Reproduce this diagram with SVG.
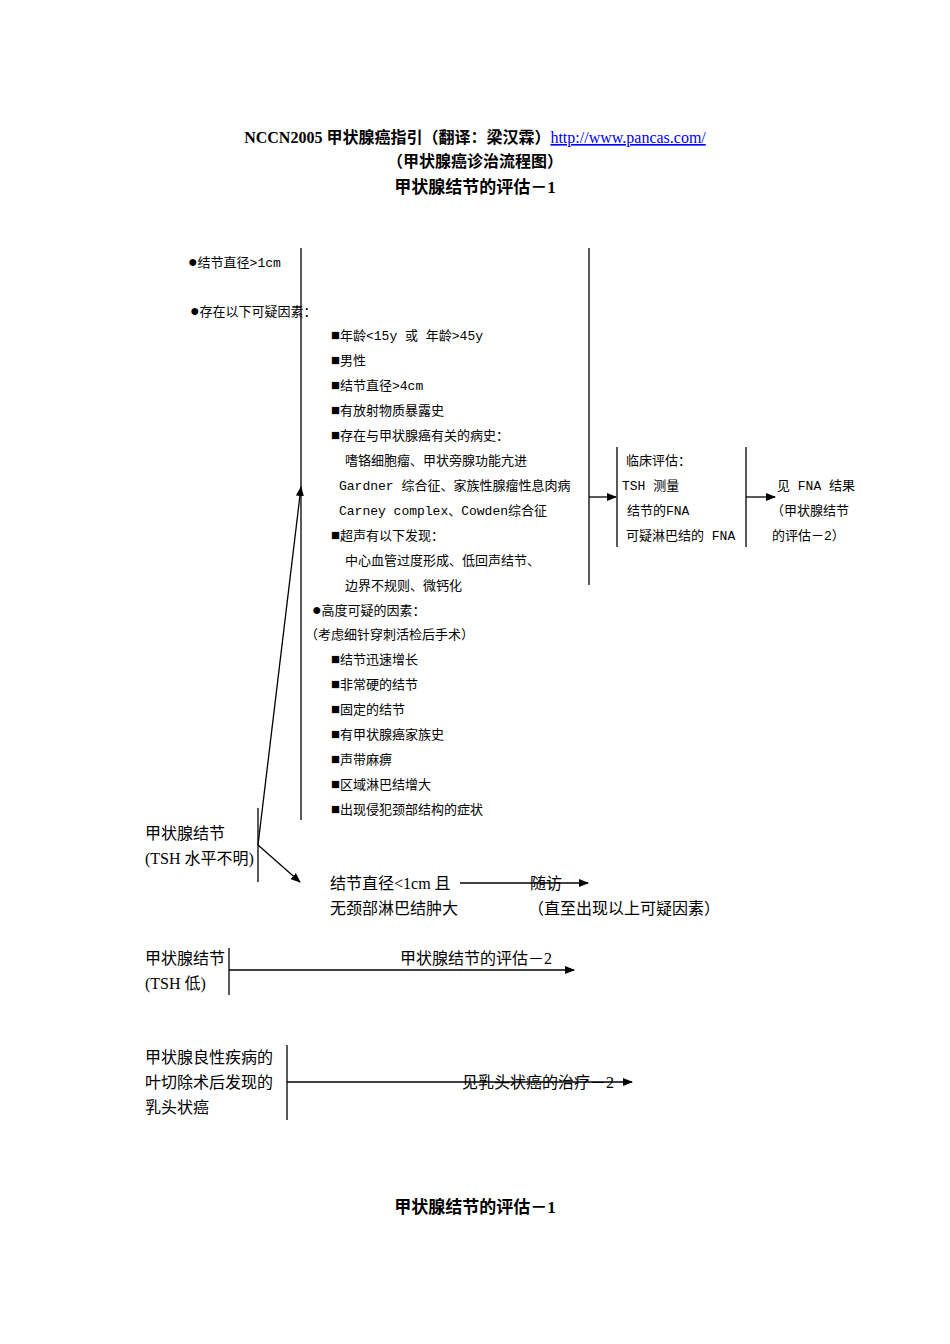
<svg xmlns="http://www.w3.org/2000/svg" width="950" height="1344" viewBox="0 0 950 1344">
<defs>
<style>
text{font-family:"Liberation Serif","Noto Sans CJK SC",serif;fill:#000}
.s text{font-size:13px;font-family:"Liberation Mono","Noto Sans CJK SC",monospace}
.m{font-size:16px}
.t{font-size:17px;font-weight:bold}
.b{font-size:15px}
line{stroke:#000;stroke-width:1.3}
</style>
<marker id="a" markerWidth="10" markerHeight="8" refX="9" refY="4" orient="auto" markerUnits="userSpaceOnUse"><path d="M0,0L10,4L0,8z" fill="#000"/></marker>
</defs>
<rect width="950" height="1344" fill="#fff"/>
<g id="title">
<text x="475" y="143" text-anchor="middle" class="m" font-weight="bold">NCCN2005 甲状腺癌指引（翻译：梁汉霖）<tspan fill="#00f" font-weight="normal" text-decoration="underline">http://www.pancas.com/</tspan></text>
<text x="475" y="167" text-anchor="middle" class="m" font-weight="bold">（甲状腺癌诊治流程图）</text>
<text x="475" y="193" text-anchor="middle" class="t">甲状腺结节的评估－1</text>
<text x="475" y="1213" text-anchor="middle" class="t">甲状腺结节的评估－1</text>
</g>
<g id="criteria" class="s">
<text x="188" y="267"><tspan font-size="16">●</tspan>结节直径&gt;1cm</text>
<text x="190" y="316"><tspan font-size="16">●</tspan>存在以下可疑因素：</text>
<text x="331" y="340"><tspan class="b">■</tspan>年龄&lt;15y   或 年龄&gt;45y</text>
<text x="331" y="365"><tspan class="b">■</tspan>男性</text>
<text x="331" y="390"><tspan class="b">■</tspan>结节直径&gt;4cm</text>
<text x="331" y="415"><tspan class="b">■</tspan>有放射物质暴露史</text>
<text x="331" y="440"><tspan class="b">■</tspan>存在与甲状腺癌有关的病史：</text>
<text x="345" y="465">嗜铬细胞瘤、甲状旁腺功能亢进</text>
<text x="339" y="490">Gardner 综合征、家族性腺瘤性息肉病</text>
<text x="339" y="515">Carney complex、Cowden综合征</text>
<text x="331" y="540"><tspan class="b">■</tspan>超声有以下发现：</text>
<text x="345" y="565">中心血管过度形成、低回声结节、</text>
<text x="345" y="590">边界不规则、微钙化</text>
<text x="312" y="615"><tspan font-size="16">●</tspan>高度可疑的因素：</text>
<text x="305" y="639">（考虑细针穿刺活检后手术）</text>
<text x="331" y="664"><tspan class="b">■</tspan>结节迅速增长</text>
<text x="331" y="689"><tspan class="b">■</tspan>非常硬的结节</text>
<text x="331" y="714"><tspan class="b">■</tspan>固定的结节</text>
<text x="331" y="739"><tspan class="b">■</tspan>有甲状腺癌家族史</text>
<text x="331" y="764"><tspan class="b">■</tspan>声带麻痹</text>
<text x="331" y="789"><tspan class="b">■</tspan>区域淋巴结增大</text>
<text x="331" y="814"><tspan class="b">■</tspan>出现侵犯颈部结构的症状</text>
</g>
<g id="clinical" class="s">
<text x="626" y="465">临床评估：</text>
<text x="622" y="490">TSH 测量</text>
<text x="627" y="515">结节的FNA</text>
<text x="626" y="540">可疑淋巴结的 FNA</text>
</g>
<g id="fna" class="s">
<text x="777" y="490">见 FNA 结果</text>
<text x="771" y="515">（甲状腺结节</text>
<text x="772" y="540">的评估－2）</text>
</g>
<g id="nodule1" class="m">
<text x="145" y="839">甲状腺结节</text>
<text x="145" y="864">(TSH 水平不明)</text>
</g>
<g id="small" class="m">
<text x="330" y="889">结节直径&lt;1cm 且</text>
<text x="330" y="914">无颈部淋巴结肿大</text>
</g>
<g id="follow" class="m">
<text x="530" y="889">随访</text>
<text x="528" y="914">（直至出现以上可疑因素）</text>
</g>
<g id="nodule2" class="m">
<text x="145" y="964">甲状腺结节</text>
<text x="145" y="989">(TSH 低)</text>
<text x="400" y="964">甲状腺结节的评估－2</text>
</g>
<g id="benign" class="m">
<text x="145" y="1063">甲状腺良性疾病的</text>
<text x="145" y="1088">叶切除术后发现的</text>
<text x="145" y="1113">乳头状癌</text>
<text x="462" y="1088">见乳头状癌的治疗－2</text>
</g>
<g id="connectors" fill="none">
<line x1="301" y1="248" x2="301" y2="820"/>
<line x1="589" y1="248" x2="589" y2="585"/>
<line x1="617" y1="447" x2="617" y2="547"/>
<line x1="746" y1="447" x2="746" y2="547"/>
<line x1="589" y1="497" x2="616" y2="497" marker-end="url(#a)"/>
<line x1="746" y1="497" x2="775" y2="497" marker-end="url(#a)"/>
<line x1="258" y1="808" x2="258" y2="882"/>
<line x1="258" y1="845" x2="301" y2="487" marker-end="url(#a)"/>
<line x1="258" y1="845" x2="300" y2="882" marker-end="url(#a)"/>
<line x1="460" y1="883" x2="588" y2="883" marker-end="url(#a)"/>
<line x1="229" y1="948" x2="229" y2="995"/>
<line x1="229" y1="970" x2="574" y2="970" marker-end="url(#a)"/>
<line x1="287" y1="1045" x2="287" y2="1120"/>
<line x1="287" y1="1082" x2="632" y2="1082" marker-end="url(#a)"/>
</g>
</svg>
